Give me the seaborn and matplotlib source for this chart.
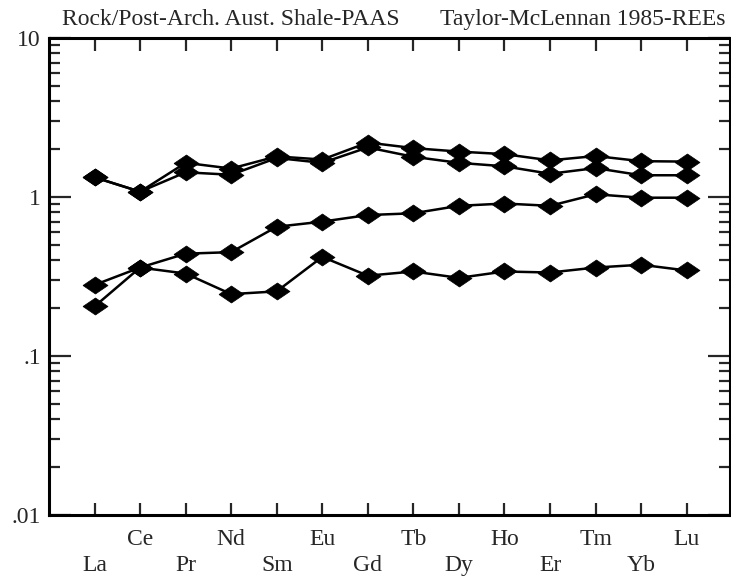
import numpy as np
import pandas as pd
import seaborn as sns
import matplotlib.pyplot as plt
from matplotlib.ticker import FixedLocator, FixedFormatter, LogLocator, NullFormatter

# REE patterns normalised to PAAS (Taylor & McLennan 1985)
elements = ['La', 'Ce', 'Pr', 'Nd', 'Sm', 'Eu', 'Gd', 'Tb', 'Dy', 'Ho', 'Er', 'Tm', 'Yb', 'Lu']
sample_a = [1.33, 1.08, 1.64, 1.51, 1.80, 1.72, 2.20, 2.03, 1.93, 1.86, 1.70, 1.81, 1.68, 1.67]
sample_b = [1.33, 1.08, 1.43, 1.38, 1.76, 1.64, 2.05, 1.79, 1.64, 1.56, 1.40, 1.52, 1.37, 1.37]
sample_c = [0.28, 0.36, 0.44, 0.45, 0.65, 0.70, 0.77, 0.79, 0.88, 0.91, 0.88, 1.04, 0.99, 0.99]
sample_d = [0.205, 0.36, 0.33, 0.245, 0.255, 0.42, 0.32, 0.34, 0.31, 0.34, 0.335, 0.36, 0.375, 0.345]
y_ticks = [0.01, 0.1, 1, 10]
y_ticklabels = ['.01', '.1', '1', '10']

samples = {'A': sample_a, 'B': sample_b, 'C': sample_c, 'D': sample_d}
df = pd.DataFrame({
    'pos': np.tile(np.arange(1, len(elements) + 1), len(samples)),
    'value': np.concatenate(list(samples.values())),
    'sample': np.repeat(list(samples.keys()), len(elements)),
})

sns.set_style('ticks')
plt.rcParams['font.family'] = ['Liberation Serif', 'DejaVu Serif']

fig, ax = plt.subplots(figsize=(7.31, 5.77), dpi=100)
fig.subplots_adjust(left=49/731, right=0.9985, bottom=1-515/577, top=1-38/577)

diamond = [(-1, 0), (0, 0.68), (1, 0), (0, -0.68), (-1, 0)]
sns.lineplot(data=df, x='pos', y='value', units='sample', estimator=None, sort=False,
             color='black', linewidth=1.8, marker=diamond, markersize=18,
             markeredgecolor='black', markeredgewidth=0.5, ax=ax)

ax.set_yscale('log')
ax.set_ylim(0.01, 10)
ax.set_xlim(0, 14.95)
ax.yaxis.set_major_locator(FixedLocator(y_ticks))
ax.yaxis.set_major_formatter(FixedFormatter(y_ticklabels))
ax.yaxis.set_minor_locator(LogLocator(base=10, subs=np.arange(2, 10)))
ax.yaxis.set_minor_formatter(NullFormatter())

ax.set_xticks(np.arange(1, len(elements) + 1))
ax.set_xticklabels([e if i % 2 else '\n' + e for i, e in enumerate(elements)])
for lbl in ax.get_xticklabels():
    lbl.set_linespacing(1.3)

ax.tick_params(axis='y', which='major', direction='in', length=16, width=1.6,
               left=True, right=True, labelsize=17, pad=6)
ax.tick_params(axis='y', which='minor', direction='in', length=8, width=1.6,
               left=True, right=True)
ax.tick_params(axis='x', which='major', direction='in', length=9, width=1.6,
               bottom=True, top=True, labelsize=17, pad=10)
ax.tick_params(axis='x', which='minor', bottom=False, top=False)

for sp in ax.spines.values():
    sp.set_visible(True)
    sp.set_linewidth(2.2)
    sp.set_color('black')

ax.set_xlabel('')
ax.set_ylabel('')

fig.text(62/731, 0.967, 'Rock/Post-Arch. Aust. Shale-PAAS', ha='left', va='center', fontsize=17)
fig.text(726/731, 0.967, 'Taylor-McLennan 1985-REEs', ha='right', va='center', fontsize=17)

fig.savefig('out.png', dpi=100)
